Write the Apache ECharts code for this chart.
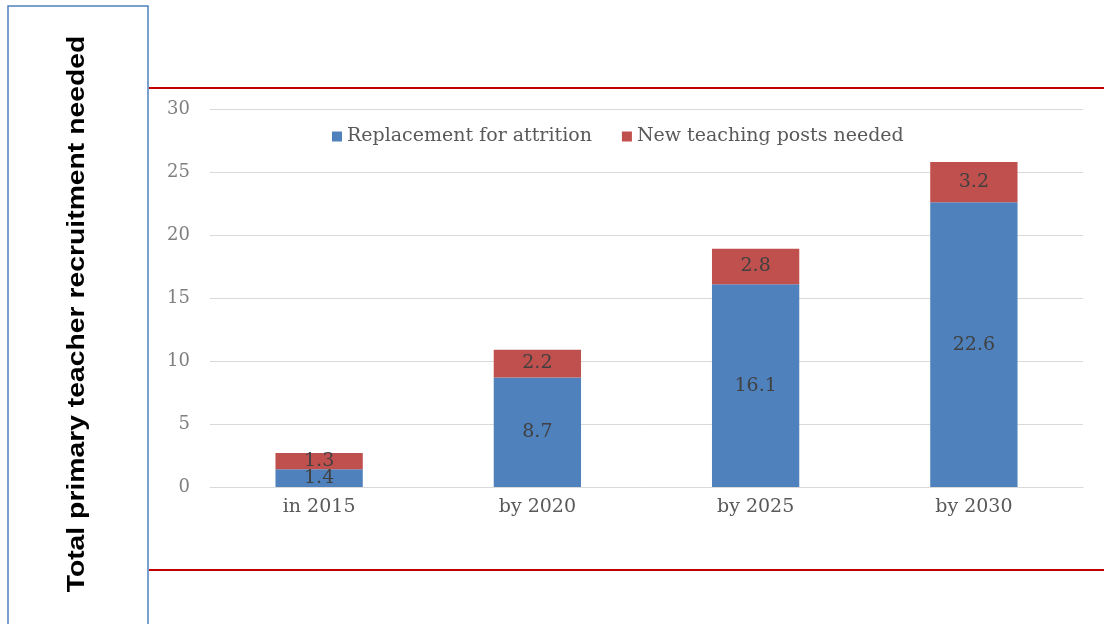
<!DOCTYPE html>
<html>
<head>
<meta charset="utf-8">
<script src="https://cdn.jsdelivr.net/npm/echarts@6/dist/echarts.min.js"></script>
<style>
  html, body { margin: 0; padding: 0; background: #fff; }
  #chart { width: 1104px; height: 624px; }
</style>
</head>
<body>
<div id="chart"></div>
<script>
// data
const categories = ["in 2015", "by 2020", "by 2025", "by 2030"];
const replacement = [1.4, 8.7, 16.1, 22.6];
const newPosts = [1.3, 2.2, 2.8, 3.2];
const seriesNames = ["Replacement for attrition", "New teaching posts needed"];
const yTitle = "Total primary teacher recruitment needed";

const chart = echarts.init(document.getElementById("chart"));
const serif = "DejaVu Serif";

let option = {
  animation: false,
  backgroundColor: "#fff",
  grid: { left: 210, right: 21, top: 109, bottom: 137 },
  legend: {
    top: 122,
    left: 327,
    itemWidth: 10,
    itemHeight: 10,
    itemGap: 30,
    icon: "rect",
    textStyle: { color: "#595959", fontSize: 19, fontFamily: serif },
    data: seriesNames
  },
  xAxis: {
    type: "category",
    data: categories,
    axisLine: { lineStyle: { color: "#d9d9d9" } },
    axisTick: { show: false },
    axisLabel: { color: "#595959", fontSize: 19, fontFamily: serif, margin: 11 }
  },
  yAxis: {
    type: "value",
    min: 0,
    max: 30,
    interval: 5,
    axisLine: { show: false },
    axisTick: { show: false },
    splitLine: { lineStyle: { color: "#d9d9d9" } },
    axisLabel: { color: "#7f7f7f", fontSize: 18, fontFamily: serif, margin: 20 }
  },
  series: [
    {
      name: seriesNames[0],
      type: "bar",
      stack: "total",
      barWidth: "40%",
      itemStyle: { color: "#4f81bd" },
      label: { show: true, position: "inside", color: "#404040", fontSize: 19, fontFamily: serif },
      data: replacement
    },
    {
      name: seriesNames[1],
      type: "bar",
      stack: "total",
      barWidth: "40%",
      itemStyle: { color: "#c0504d" },
      label: { show: true, position: "inside", color: "#404040", fontSize: 19, fontFamily: serif },
      data: newPosts
    }
  ],
  graphic: [
    {
      type: "rect",
      shape: { x: 8, y: 6, width: 140, height: 640 },
      style: { fill: "none", stroke: "#4f81bd", lineWidth: 1.5 }
    },
    {
      type: "line",
      shape: { x1: 149, y1: 88, x2: 1104, y2: 88 },
      style: { stroke: "#c00000", lineWidth: 2 }
    },
    {
      type: "line",
      shape: { x1: 149, y1: 570, x2: 1104, y2: 570 },
      style: { stroke: "#c00000", lineWidth: 2 }
    },
    {
      type: "text",
      x: 77,
      y: 314,
      rotation: Math.PI / 2,
      scaleX: 1.18,
      style: {
        text: yTitle,
        fill: "#000",
        fontFamily: "Arial",
        fontWeight: "bold",
        fontSize: 24,
        textAlign: "center",
        textVerticalAlign: "middle"
      }
    }
  ]
};

chart.setOption(option);
</script>
</body>
</html>
